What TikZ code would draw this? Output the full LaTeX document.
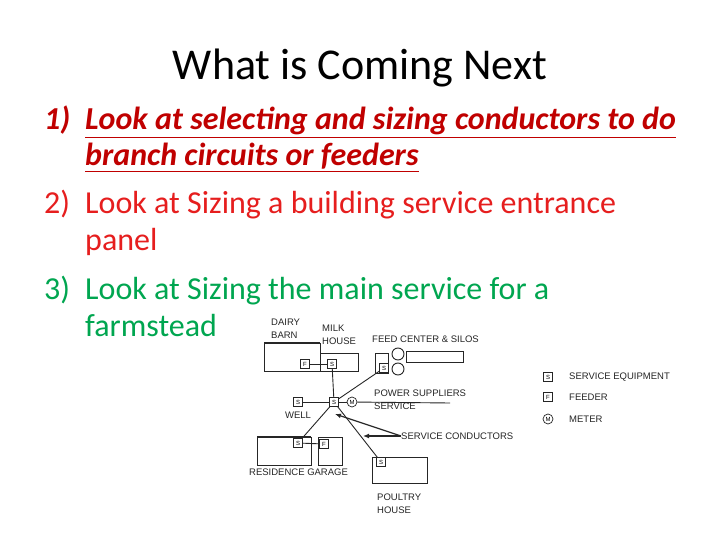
\documentclass[tikz,border=0pt]{standalone}
\usepackage{fontspec}
\setmainfont{Carlito}
\newfontfamily\diag{Liberation Sans}
\usetikzlibrary{arrows.meta}
\definecolor{darkred}{RGB}{192,0,0}
\definecolor{brightred}{RGB}{230,30,30}
\definecolor{grn}{RGB}{0,166,80}
\begin{document}
\begin{tikzpicture}[x=1pt,y=-1pt,
  ln/.style={line width=0.9pt,black!85},
  bx/.style={draw=black!85,line width=0.9pt},
  eq/.style={draw=black!85,line width=0.7pt,minimum size=9pt,inner sep=0pt,font=\diag\fontsize{6}{6}\selectfont},
  lab/.style={font=\diag\fontsize{9.5}{13}\selectfont,text=black!85,inner sep=0pt},
  item/.style={font=\fontsize{32}{36}\selectfont,anchor=base west,inner sep=0pt}]
\useasboundingbox[fill=white] (0,0) rectangle (720,540);
\node[font=\fontsize{44}{48}\selectfont,anchor=base] (title) at (360,80) {What is Coming Next};
% list
\node[item,text=darkred,font=\fontsize{32}{36}\selectfont\bfseries\itshape] (n1) at (44,130) {1)};
\node[item,text=darkred,font=\fontsize{32}{36}\selectfont\bfseries\itshape] (t1a) at (85,130) {\underline{Look at selecting and sizing conductors to do}};
\node[item,text=darkred,font=\fontsize{32}{36}\selectfont\bfseries\itshape] (t1b) at (85,166) {\underline{branch circuits or feeders}};
\node[item,text=brightred] (n2) at (44,214) {2)};
\node[item,text=brightred] (t2a) at (85,214) {Look at Sizing a building service entrance};
\node[item,text=brightred] (t2b) at (85,250) {panel};
\node[item,text=grn] (n3) at (44,299) {3)};
\node[item,text=grn] (t3a) at (85,299) {Look at Sizing the main service for a};
\node[item,text=grn] (t3b) at (85,336) {farmstead};
% buildings
\draw[bx] (264,343) rectangle (320,371);
\draw[line width=1.6pt,black!85] (264,343) -- (320,343);
\draw[bx] (320,353) rectangle (358,371);
\draw[bx] (375,353) rectangle (388,373);
\draw[bx] (398,354) circle (6);
\draw[bx] (398,369) circle (6);
\draw[bx] (406,351) rectangle (463,362);
\draw[bx] (257,437) rectangle (311,465);
\draw[line width=1.6pt,black!85] (257,437) -- (311,437);
\draw[bx] (318,437) rectangle (342,465);
\draw[bx] (372,457) rectangle (427,483);
% equipment
\node[eq,draw] (bf) at (305,364) {F};
\node[eq,draw] (ms) at (332,364) {S};
\node[eq,draw] (fs) at (384,368) {S};
\node[eq,draw] (cs) at (334,402) {S};
\node[eq,draw,circle,minimum size=10pt] (m) at (352,402) {M};
\node[eq,draw] (ws) at (298,402) {S};
\node[eq,draw] (rs) at (298,443) {S};
\node[eq,draw] (gf) at (324,444) {F};
\node[eq,draw] (ps) at (381,462) {S};
\coordinate (pwr) at (450,403);
% connectors
\draw[ln] (bf) -- (ms);
\draw[ln] (ms) -- (cs);
\draw[ln] (cs) -- (fs);
\draw[ln] (ws) -- (cs);
\draw[ln] (cs) -- (m);
\draw[ln] (m) -- (pwr);
\draw[ln] (cs) -- (rs);
\draw[ln] (cs) -- (ps);
\draw[ln] (rs) -- (gf);
% labels
\node[lab,align=left,anchor=north west] (l1) at (271,319) {DAIRY\\BARN};
\node[lab,align=left,anchor=north west] (l2) at (322,325) {MILK\\HOUSE};
\node[lab,anchor=west] (l3) at (372,339) {FEED CENTER \& SILOS};
\node[lab,align=left,anchor=north west] (l4) at (374,390) {POWER SUPPLIERS\\SERVICE};
\node[lab,anchor=center] (l5) at (298,415) {WELL};
\node[lab,anchor=west] (sc) at (401,436) {SERVICE CONDUCTORS};
\node[lab,anchor=west] (l6) at (249,472) {RESIDENCE GARAGE};
\node[lab,align=left,anchor=north west] (l7) at (377,494) {POULTRY\\HOUSE};
\coordinate (a1) at (335,414);
\coordinate (a2) at (363,436);
\draw[line width=1.2pt,black!85,-{Latex[length=6pt,width=5pt]}] (sc.west) -- (a1);
\draw[line width=1.2pt,black!85,-{Latex[length=6pt,width=5pt]}] (sc.west) -- (a2);
% legend
\node[eq,draw] (ls) at (548,377) {S};
\node[eq,draw] (lf) at (548,397) {F};
\node[eq,draw,circle,minimum size=10pt] (lm) at (548,419) {M};
\node[lab,anchor=west] (t1) at (569,377) {SERVICE EQUIPMENT};
\node[lab,anchor=west] (t2) at (569,397) {FEEDER};
\node[lab,anchor=west] (t3) at (569,419) {METER};
\end{tikzpicture}
\end{document}
